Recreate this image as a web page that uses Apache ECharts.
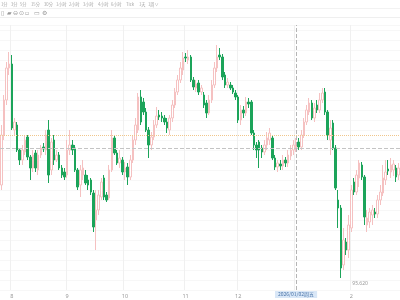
<!DOCTYPE html>
<html><head><meta charset="utf-8">
<script src="https://cdn.jsdelivr.net/npm/echarts@6/dist/echarts.min.js"></script>
<style>html,body{margin:0;padding:0;background:#fff}#c{width:400px;height:300px}</style>
</head><body><div id="c"></div>
<script>
// trading calendar (weekdays between these dates, minus holidays)
const startDate = [2025, 7, 28];
const endDate = [2026, 2, 26];
const holidays = ['2025-12-25', '2026-01-01'];

const openV = [
96.55,97.05,97.40,97.72,97.76,97.10,97.15,96.90,96.80,96.88,
97.03,96.83,96.72,96.87,96.70,96.85,96.93,96.90,97.10,96.70,
97.00,96.80,96.85,96.72,96.68,96.65,96.90,96.95,96.92,96.70,
96.55,96.65,96.65,96.60,96.60,96.47,96.20,96.30,96.43,96.62,
96.45,96.42,96.70,97.02,96.87,96.77,96.80,96.68,96.73,96.63,
96.80,97.00,97.10,97.43,97.38,97.28,97.10,96.95,97.03,97.15,
97.25,97.24,97.22,97.18,97.10,97.22,97.35,97.48,97.60,97.70,
97.83,97.80,97.83,97.60,97.52,97.57,97.48,97.45,97.37,97.27,
97.40,97.55,97.72,97.85,97.83,97.65,97.55,97.55,97.52,97.47,
97.43,97.20,97.30,97.27,97.38,97.38,97.07,96.95,96.98,96.92,
96.88,96.95,97.00,97.02,96.82,96.73,96.76,96.74,96.80,96.77,
96.84,96.90,96.92,96.98,96.93,97.05,97.18,97.28,97.37,97.22,
97.35,97.30,97.40,97.48,97.28,97.00,97.17,96.92,96.40,96.32,
95.75,95.98,95.90,96.12,96.58,96.48,96.62,96.75,96.63,96.15,
96.18,96.25,96.28,96.26,96.40,96.47,96.60,96.71,96.68,96.70,
96.72,96.65];
const closeV = [
97.05,97.40,97.72,97.76,97.12,97.18,96.90,96.80,96.90,97.00,
96.83,96.72,96.85,96.72,96.85,96.92,96.91,97.05,96.65,96.98,
96.80,96.85,96.72,96.65,96.63,96.90,96.95,96.90,96.70,96.53,
96.70,96.72,96.57,96.55,96.48,96.13,96.30,96.45,96.58,96.43,
96.40,96.70,97.02,96.87,96.77,96.82,96.68,96.72,96.63,96.80,
97.00,97.15,97.43,97.18,97.28,97.10,96.95,97.03,97.15,97.24,
97.23,97.22,97.18,97.12,97.22,97.35,97.48,97.60,97.72,97.82,
97.82,97.83,97.60,97.53,97.56,97.48,97.52,97.35,97.27,97.40,
97.55,97.72,97.83,97.83,97.63,97.55,97.58,97.52,97.48,97.43,
97.20,97.30,97.27,97.38,97.36,97.07,96.95,96.90,96.90,96.88,
96.95,97.02,97.07,96.82,96.73,96.77,96.74,96.80,96.77,96.85,
96.90,96.95,96.97,96.93,97.05,97.18,97.30,97.37,97.22,97.32,
97.30,97.40,97.47,97.28,97.05,97.12,96.92,96.52,96.32,95.72,
96.00,95.90,96.15,96.50,96.48,96.65,96.77,96.63,96.23,96.22,
96.28,96.30,96.26,96.40,96.48,96.62,96.68,96.69,96.75,96.76,
96.63,96.72];
const lowV = [
96.50,97.00,97.35,97.65,97.10,97.05,96.88,96.75,96.75,96.85,
96.80,96.60,96.68,96.68,96.65,96.82,96.88,96.85,96.57,96.65,
96.75,96.78,96.70,96.62,96.60,96.62,96.85,96.85,96.68,96.50,
96.43,96.60,96.55,96.50,96.45,96.08,95.90,96.25,96.40,96.40,
96.38,96.40,96.68,96.85,96.75,96.72,96.65,96.60,96.55,96.60,
96.77,96.95,97.07,97.15,97.25,97.08,96.82,96.90,97.00,97.12,
97.20,97.18,97.15,97.07,97.05,97.18,97.32,97.45,97.57,97.65,
97.78,97.76,97.58,97.50,97.48,97.45,97.45,97.32,97.22,97.25,
97.37,97.52,97.68,97.80,97.60,97.52,97.52,97.50,97.46,97.40,
97.17,97.15,97.22,97.24,97.32,97.05,96.90,96.82,96.72,96.82,
96.85,96.90,96.95,96.80,96.70,96.68,96.70,96.70,96.73,96.73,
96.80,96.85,96.88,96.90,96.90,97.02,97.15,97.25,97.20,97.18,
97.27,97.27,97.37,97.25,97.00,96.85,96.90,96.50,96.12,95.62,
95.70,95.85,95.82,96.08,96.45,96.45,96.53,96.60,96.15,96.08,
96.12,96.15,96.22,96.22,96.35,96.44,96.55,96.65,96.62,96.64,
96.58,96.60];
const highV = [
97.15,97.45,97.78,97.88,97.85,97.22,97.18,96.92,96.95,97.05,
97.05,96.85,96.90,96.90,96.90,96.95,96.97,97.10,97.20,97.02,
97.05,96.90,96.88,96.75,96.72,97.00,97.10,97.00,96.95,96.72,
96.75,96.80,96.70,96.65,96.62,96.50,96.50,96.50,96.62,96.65,
96.48,96.75,97.10,97.05,96.90,96.90,96.83,96.78,96.77,96.85,
97.05,97.22,97.47,97.50,97.42,97.32,97.13,97.08,97.20,97.33,
97.30,97.28,97.25,97.22,97.25,97.40,97.52,97.65,97.78,97.88,
97.87,97.90,97.85,97.63,97.60,97.60,97.55,97.48,97.40,97.45,
97.60,97.78,97.95,97.92,97.86,97.68,97.62,97.58,97.55,97.50,
97.45,97.35,97.34,97.43,97.42,97.40,97.10,96.98,97.00,96.95,
97.00,97.08,97.12,97.05,96.85,96.80,96.80,96.85,96.83,96.90,
96.95,97.00,97.02,97.02,97.10,97.22,97.35,97.42,97.40,97.37,
97.40,97.47,97.52,97.52,97.30,97.20,97.20,96.95,96.50,96.35,
96.12,96.02,96.25,96.55,96.62,96.70,96.80,96.78,96.65,96.30,
96.32,96.35,96.32,96.45,96.55,96.75,96.80,96.80,96.82,96.80,
96.75,96.77];

const pointerDate = '2026/01/02';
const pointerLabel = '2026/01/02周五';
const crossPrice = 96.92;
const refPrice = 97.05;
const periodTabs = ['1分','3分','5分','15分','30分','1小时','2小时','3小时','4小时','6小时','Tick','1天','1周∨'];
const toolIcons = ['▯','▰','⊖','⊙','▫','▭','⚙'];

function buildDates() {
  const out = [];
  const d = new Date(Date.UTC(startDate[0], startDate[1]-1, startDate[2]));
  const end = new Date(Date.UTC(endDate[0], endDate[1]-1, endDate[2]));
  while (d <= end) {
    const dow = d.getUTCDay();
    const iso = d.toISOString().slice(0,10);
    if (dow !== 0 && dow !== 6 && holidays.indexOf(iso) < 0) out.push(iso.replace(/-/g,'/'));
    d.setUTCDate(d.getUTCDate()+1);
  }
  return out;
}
const dates = buildDates();
const monthStart = dates.map((v,i)=> i>0 && v.slice(5,7) !== dates[i-1].slice(5,7));
const pointerIdx = dates.indexOf(pointerDate);
const candles = dates.map((_,i)=>[openV[i], closeV[i], lowV[i], highV[i]]);

const tabX = [0,10,19,30,43,55,68,82,97,110,125,138,147];
const iconX = [0,6,12,18,24,33,41];
const graphics = [
  {type:'rect', z:50, shape:{x:0,y:8,width:400,height:1}, style:{fill:'#f2f2f2'}},
  {type:'rect', z:50, shape:{x:0,y:17,width:400,height:1}, style:{fill:'#efefef'}}
];
periodTabs.forEach((t,i)=>graphics.push({type:'text', z:50, x:tabX[i]+1, y:2, style:{text:t, fill:'#a8a8a8', font:'4.2px "Noto Sans CJK SC", sans-serif', textVerticalAlign:'top'}}));
toolIcons.forEach((t,i)=>graphics.push({type:'text', z:50, x:iconX[i]+1, y:10, style:{text:t, fill:'#9a9a9a', font:'6px "DejaVu Sans", sans-serif', textVerticalAlign:'top'}}));

const chart = echarts.init(document.getElementById('c'), null, {renderer:'canvas'});
chart.setOption({
  animation:false,
  backgroundColor:'#ffffff',
  grid:{left:0,right:0,top:25,bottom:10},
  graphic:{elements:graphics},
  xAxis:{
    type:'category', data:dates, boundaryGap:true,
    axisLine:{show:false},
    axisTick:{show:false, alignWithLabel:true, interval:(i)=>monthStart[i]},
    axisLabel:{
      interval:(i)=>monthStart[i] && i!==pointerIdx,
      formatter:(v)=>String(parseInt(v.slice(5,7),10)),
      fontSize:5.5, color:'#999', margin:3,
      fontFamily:'"Noto Sans", sans-serif'
    },
    splitLine:{show:true, interval:(i)=>monthStart[i], lineStyle:{color:'#f0f0f0',width:1}},
    axisPointer:{
      show:true, type:'line', value:pointerDate, status:'show', snap:true, triggerTooltip:false,
      lineStyle:{color:'#b5b5b5', type:'dashed', width:1},
      label:{show:true, formatter:()=>pointerLabel, backgroundColor:'#d9e7f7', color:'#4a74a8',
        fontSize:5, padding:[1,3,1,3], margin:1, fontFamily:'"Noto Sans CJK SC", sans-serif', borderRadius:0}
    }
  },
  yAxis:{
    type:'value', position:'right', min:95.5, max:98.15, interval:0.1, scale:true,
    axisLabel:{show:false}, axisLine:{show:false}, axisTick:{show:false},
    splitLine:{show:true, lineStyle:{color:'#f7f7f7',width:1}},
    axisPointer:{
      show:true, type:'line', value:crossPrice, status:'show', triggerTooltip:false,
      lineStyle:{color:'#c4c4c4', type:'dashed', width:1},
      label:{show:false}
    }
  },
  series:[{
    type:'candlestick',
    data:candles,
    barWidth:2,
    itemStyle:{color:'#ffffff', color0:'#1ca45a', borderColor:'#f5c1c1', borderColor0:'#1ca45a', borderWidth:1},
    markLine:{
      silent:true, symbol:['none','none'], label:{show:false},
      lineStyle:{color:'#f0c68c', type:'dotted', width:1},
      data:[{yAxis:refPrice}]
    },
    markPoint:{
      symbol:'circle', symbolSize:1, itemStyle:{color:'rgba(0,0,0,0)'},
      label:{show:true, position:'right', offset:[6,6], fontSize:5, color:'#999',
        formatter:(p)=>Number(p.value).toFixed(3), fontFamily:'"Noto Sans", sans-serif'},
      data:[{type:'min', valueDim:'lowest', name:'min'}]
    }
  }]
});
</script>
</body></html>
